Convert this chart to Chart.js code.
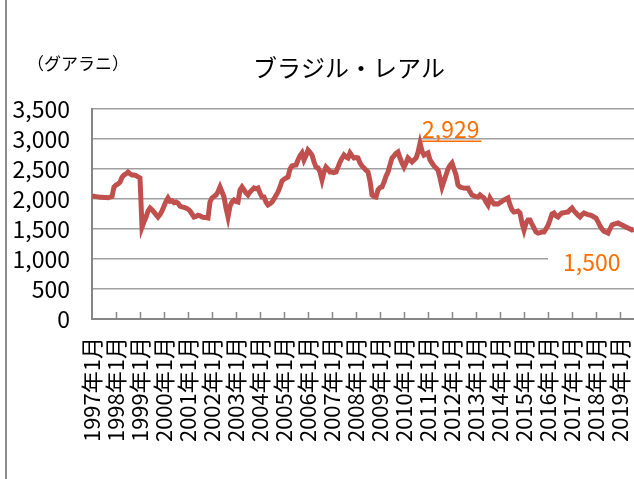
<!DOCTYPE html>
<html>
<head>
<meta charset="utf-8">
<script src="https://cdn.jsdelivr.net/npm/chart.js@4.4.1/dist/chart.umd.min.js"></script>
<style>
    body { margin: 0; background: #fff; overflow: hidden; }
    #wrap { width: 634px; height: 479px; overflow: hidden; }
</style>
</head>
<body>
<div id="wrap"><canvas id="main_chart" width="634" height="479"></canvas></div>
<script>
// chart data (monthly, from 1997年1月)
const title = "ブラジル・レアル";
const unit = "（グアラニ）";
const yTicks = [0, 500, 1000, 1500, 2000, 2500, 3000, 3500];
const maxLabel = "2,929";
const lastLabel = "1,500";
const rates = [
    2050, 2045, 2040, 2035, 2030, 2030, 2025, 2025, 2020, 2030, 2040, 2200,
    2233, 2250, 2280, 2360, 2400, 2420, 2450, 2420, 2400, 2400, 2390, 2370,
    2350, 1530, 1620, 1700, 1800, 1850, 1820, 1780, 1740, 1700, 1740, 1800,
    1880, 1960, 2017, 1960, 1970, 1940, 1950, 1930, 1880, 1870, 1860, 1850,
    1830, 1800, 1750, 1700, 1710, 1730, 1720, 1700, 1690, 1690, 1683, 1950,
    2017, 2040, 2067, 2120, 2200, 2120, 2033, 1850, 1700, 1880, 1950, 1983,
    1960, 1950, 2150, 2200, 2150, 2100, 2067, 2117, 2150, 2183, 2170, 2183,
    2100, 2033, 2033, 1950, 1900, 1920, 1950, 2000, 2060, 2117, 2200, 2300,
    2330, 2350, 2367, 2500, 2550, 2560, 2567, 2650, 2720, 2767, 2650, 2720,
    2817, 2780, 2733, 2620, 2533, 2520, 2450, 2317, 2450, 2533, 2500, 2450,
    2450, 2440, 2450, 2530, 2617, 2680, 2733, 2700, 2683, 2767, 2720, 2683,
    2690, 2683, 2600, 2550, 2517, 2480, 2450, 2300, 2067, 2040, 2033, 2150,
    2190, 2200, 2280, 2380, 2450, 2570, 2683, 2720, 2760, 2783, 2683, 2600,
    2533, 2600, 2683, 2650, 2617, 2650, 2683, 2780, 2929, 2800, 2733, 2750,
    2767, 2650, 2600, 2550, 2517, 2483, 2350, 2200, 2300, 2400, 2500, 2560,
    2600, 2500, 2400, 2233, 2200, 2190, 2183, 2180, 2183, 2120, 2067, 2050,
    2040, 2033, 2067, 2040, 2017, 1950, 1900, 2017, 1960, 1917, 1920, 1917,
    1940, 1960, 1983, 2000, 2017, 1900, 1820, 1783, 1790, 1800, 1767, 1600,
    1483, 1600, 1650, 1650, 1580, 1517, 1450, 1433, 1440, 1450, 1450, 1500,
    1560, 1650, 1750, 1767, 1720, 1700, 1740, 1767, 1770, 1780, 1783, 1820,
    1850, 1800, 1767, 1730, 1700, 1740, 1767, 1750, 1740, 1733, 1720, 1700,
    1683, 1620, 1550, 1500, 1460, 1450, 1433, 1500, 1567, 1580, 1590, 1600,
    1580, 1567, 1550, 1530, 1517, 1500, 1483, 1500
];

let labels = [];
for (let y = 1997; labels.length < rates.length; y++) {
    for (let m = 1; m <= 12 && labels.length < rates.length; m++) {
        labels.push(y + "年" + m + "月");
    }
}

const jp = "'Noto Sans CJK JP', sans-serif";
const orange = "#ff6d00";

// title, unit, tick marks and the two value labels
const extras = {
    id: "extras",
    beforeDraw(chart) {
        const ctx = chart.ctx;
        ctx.save();
        ctx.strokeStyle = "#8c8c8c";
        ctx.lineWidth = 2;
        ctx.beginPath();
        ctx.moveTo(6, 0);
        ctx.lineTo(6, 479);
        ctx.stroke();
        ctx.restore();
    },
    afterDatasetsDraw(chart) {
        const ctx = chart.ctx;
        const xs = chart.scales.x;
        const ys = chart.scales.y;
        const area = chart.chartArea;
        ctx.save();
        // year tick marks (inside the plot)
        ctx.strokeStyle = "#868686";
        ctx.lineWidth = 1.5;
        for (let i = 12; i < rates.length; i += 12) {
            const x = Math.round(xs.getPixelForValue(i)) + 0.5;
            ctx.beginPath();
            ctx.moveTo(x, area.bottom);
            ctx.lineTo(x, area.bottom - 7);
            ctx.stroke();
        }

        ctx.fillStyle = "#000";
        ctx.textBaseline = "middle";
        ctx.font = "24px " + jp;
        ctx.textAlign = "center";
        ctx.fillText(title, 349, 68);
        ctx.font = "17px " + jp;
        ctx.textAlign = "left";
        ctx.fillText(unit, 27, 64);

        // max label
        let mi = 0;
        for (let i = 1; i < rates.length; i++) if (rates[i] > rates[mi]) mi = i;
        const mx = xs.getPixelForValue(mi) + 2;
        const g3000 = ys.getPixelForValue(3000);
        ctx.font = "23px " + jp;
        const w1 = ctx.measureText(maxLabel).width;
        ctx.fillStyle = "#fff";
        ctx.fillRect(mx, g3000 - 24, w1 + 2, 22);
        ctx.fillStyle = orange;
        ctx.fillText(maxLabel, mx, g3000 - 10);
        ctx.fillRect(mx, g3000 + 1.5, w1 + 2, 1.5);

        // last value label
        const g1000 = ys.getPixelForValue(1000);
        ctx.fillStyle = "#fff";
        ctx.fillRect(area.right - 86, g1000 - 9, 86, 24);
        ctx.fillStyle = orange;
        ctx.fillText(lastLabel, area.right - 71, g1000 + 3);
        ctx.restore();
    }
};

let chart1 = new Chart(document.getElementById("main_chart"), {
    type: "line",
    data: {
        labels: labels,
        datasets: [{
            data: rates,
            borderColor: "#c0504d",
            borderWidth: 5,
            pointRadius: 0,
            tension: 0,
            fill: false
        }]
    },
    options: {
        responsive: false,
        animation: false,
        devicePixelRatio: 1,
        layout: { padding: { top: 109, right: 0, bottom: 0, left: 0 } },
        plugins: {
            legend: { display: false },
            tooltip: { enabled: false }
        },
        scales: {
            x: {
                type: "category",
                offset: false,
                grid: { display: false },
                border: { display: true, color: "#868686", width: 2 },
                ticks: {
                    autoSkip: false,
                    minRotation: 90,
                    maxRotation: 90,
                    padding: 10,
                    color: "#000",
                    font: { family: jp, size: 22 },
                    callback: function (v, i) {
                        return i % 12 === 0 ? this.getLabelForValue(v) : "";
                    }
                },
                afterFit: (s) => {
                    s.height = 160;
                    s.paddingLeft = 0;
                    s.paddingRight = 0;
                }
            },
            y: {
                min: 0,
                max: 3500,
                afterBuildTicks: (s) => { s.ticks = yTicks.map(v => ({ value: v })); },
                grid: { color: "#a0a0a0", lineWidth: 1.5, drawTicks: false },
                border: { display: true, color: "#868686", width: 2 },
                ticks: {
                    autoSkip: false,
                    padding: 22,
                    color: "#000",
                    font: { family: jp, size: 23 },
                    callback: (v) => v.toLocaleString("en-US")
                },
                afterFit: (s) => { s.width = 92; }
            }
        }
    },
    plugins: [extras]
});
</script>
</body>
</html>
